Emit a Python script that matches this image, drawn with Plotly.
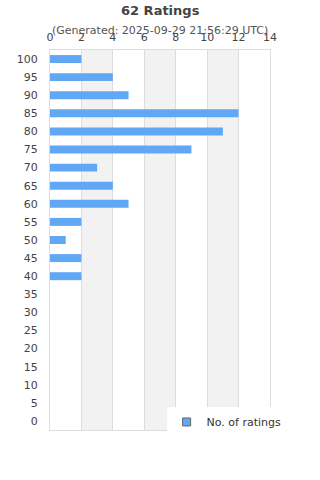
import plotly.graph_objects as go

ratings = [100, 95, 90, 85, 80, 75, 70, 65, 60, 55, 50, 45, 40]
counts = [2, 4, 5, 12, 11, 9, 3, 4, 5, 2, 1, 2, 2]
y_ticks = list(range(0, 101, 5))
x_ticks = list(range(0, 15, 2))
bands = [(2, 4), (6, 8), (10, 12)]
title = "62 Ratings"
subtitle = "(Generated: 2025-09-29 21:56:29 UTC)"
series_name = "No. of ratings"
bar_color = "#60a8f4"

fig = go.Figure()
fig.add_trace(go.Bar(
    x=counts, y=ratings, orientation="h", width=2.2,
    marker=dict(color=bar_color, line=dict(width=0)),
    showlegend=False, hoverinfo="x+y",
))
fig.add_trace(go.Scatter(
    x=[None], y=[None], mode="markers", name=series_name,
    marker=dict(symbol="square", size=8, color=bar_color, line=dict(color="#666", width=1)),
))

shapes = []
for a, b in bands:
    shapes.append(dict(type="rect", xref="x", yref="paper", x0=a, x1=b, y0=0, y1=1,
                       fillcolor="#f2f2f2", line=dict(width=0), layer="below"))

fig.update_layout(
    width=320, height=480,
    margin=dict(l=50, r=50, t=50, b=50),
    paper_bgcolor="white", plot_bgcolor="white",
    font=dict(family="DejaVu Sans", size=11, color="#444"),
    shapes=shapes,
    annotations=[
        dict(text="<b>" + title + "</b>", xref="paper", yref="paper", x=0.5, y=1,
             yshift=40, showarrow=False, font=dict(size=13, color="#444"), xanchor="center", yanchor="middle"),
        dict(text=subtitle, xref="paper", yref="paper", x=0.5, y=1,
             yshift=20, showarrow=False, font=dict(size=11, color="#555"), xanchor="center", yanchor="middle"),
    ],
    xaxis=dict(range=[0, 14], tickvals=x_ticks, side="top", showgrid=True, gridcolor="#dddddd",
               gridwidth=1, zeroline=False, showline=True, linecolor="#dddddd", mirror=True,
               ticks="", fixedrange=True, ticklabelstandoff=4, tickfont=dict(size=11, color="#444")),
    yaxis=dict(range=[-2.5, 102.5], tickvals=y_ticks, showgrid=False, zeroline=False,
               showline=True, linecolor="#dddddd", mirror=True, ticks="", ticklen=0,
               ticklabelstandoff=9, tickfont=dict(size=11, color="#444")),
    legend=dict(x=0.53, y=-0.017, xanchor="left", yanchor="bottom", bgcolor="white",
                font=dict(size=11, color="#333"), itemwidth=30,
                tracegroupgap=0),
    bargap=0.5,
)

fig.write_html("out.html")
